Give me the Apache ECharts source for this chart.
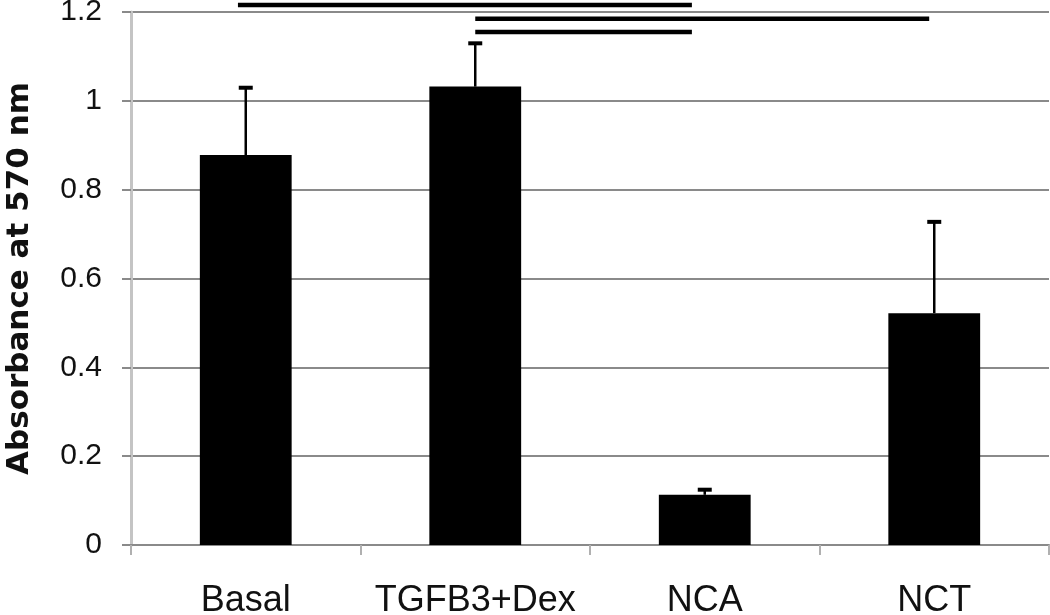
<!DOCTYPE html>
<html>
<head>
<meta charset="utf-8">
<script src="https://cdn.jsdelivr.net/npm/echarts@6/dist/echarts.min.js"></script>
<style>
html,body{margin:0;padding:0;background:#fff;}
#chart{width:1050px;height:615px;}
</style>
</head>
<body>
<div id="chart"></div>
<script>
var categories = ['Basal', 'TGFB3+Dex', 'NCA', 'NCT'];
var means = [0.878, 1.032, 0.113, 0.522];
var errors = [0.156, 0.102, 0.016, 0.21];
// significance bars: [anchor category, height, from (category units), to (category units)]
var sigBars = [
  [0, 1.216, -0.034, 1.944],
  [1, 1.185, 1.0, 2.978],
  [1, 1.155, 1.0, 1.944]
];
var yTickLabels = ['0', '0.2', '0.4', '0.6', '0.8', '1', '1.2'];

var errData = means.map(function (m, i) { return [i, m, errors[i]]; });

var chart = echarts.init(document.getElementById('chart'));
chart.setOption({
  animation: false,
  backgroundColor: '#fff',
  grid: { left: 131, right: 1, top: 12, bottom: 70, containLabel: false, outerBoundsMode: 'none' },
  xAxis: {
    type: 'category',
    data: categories,
    axisLine: { lineStyle: { color: '#8a8a8a', width: 2 } },
    axisTick: { show: true, length: 10, interval: 0, lineStyle: { color: '#b0b0b0', width: 2 } },
    axisLabel: { color: '#111', fontSize: 36, fontFamily: 'Liberation Sans', margin: 38, interval: 0 },
    splitLine: { show: false }
  },
  yAxis: {
    type: 'value',
    min: 0, max: 1.2, interval: 0.2,
    name: 'Absorbance at 570 nm',
    nameLocation: 'middle',
    nameGap: 96,
    nameRotate: 90,
    nameTextStyle: { color: '#111', fontSize: 31, fontWeight: 'bold', fontFamily: 'DejaVu Sans' },
    axisLine: { show: true, lineStyle: { color: '#c4c4c4', width: 3 } },
    axisTick: { show: true, length: 9, lineStyle: { color: '#8a8a8a', width: 2 } },
    axisLabel: {
      color: '#111', fontSize: 30, fontFamily: 'Liberation Sans', margin: 29,
      formatter: function (v) { return yTickLabels[Math.round(v / 0.2)]; }
    },
    splitLine: { show: true, lineStyle: { color: '#8a8a8a', width: 2 } }
  },
  series: [
    {
      type: 'bar',
      data: means,
      barWidth: '40%',
      itemStyle: { color: '#000' },
      z: 2
    },
    {
      type: 'custom',
      data: errData,
      encode: { x: 0, y: 1 },
      z: 3,
      renderItem: function (params, api) {
        var i = api.value(0), m = api.value(1), e = api.value(2);
        var p0 = api.coord([i, m]);
        var p1 = api.coord([i, m + e]);
        return {
          type: 'group',
          children: [
            { type: 'line', shape: { x1: p0[0], y1: p0[1], x2: p1[0], y2: p1[1] + 1 }, style: { stroke: '#000', lineWidth: 2.5 } },
            { type: 'line', shape: { x1: p1[0] - 7, y1: p1[1] + 2, x2: p1[0] + 7, y2: p1[1] + 2 }, style: { stroke: '#000', lineWidth: 4 } }
          ]
        };
      }
    },
    {
      type: 'custom',
      data: sigBars,
      encode: { x: 0, y: 1 },
      clip: false,
      z: 4,
      renderItem: function (params, api) {
        var y = api.coord([0, api.value(1)])[1];
        var c0 = api.coord([0, 0])[0];
        var band = api.size([1, 0])[0];
        var x1 = c0 + api.value(2) * band;
        var x2 = c0 + api.value(3) * band;
        return { type: 'line', shape: { x1: x1, y1: y, x2: x2, y2: y }, style: { stroke: '#000', lineWidth: 4.5 } };
      }
    }
  ]
});
</script>
</body>
</html>
